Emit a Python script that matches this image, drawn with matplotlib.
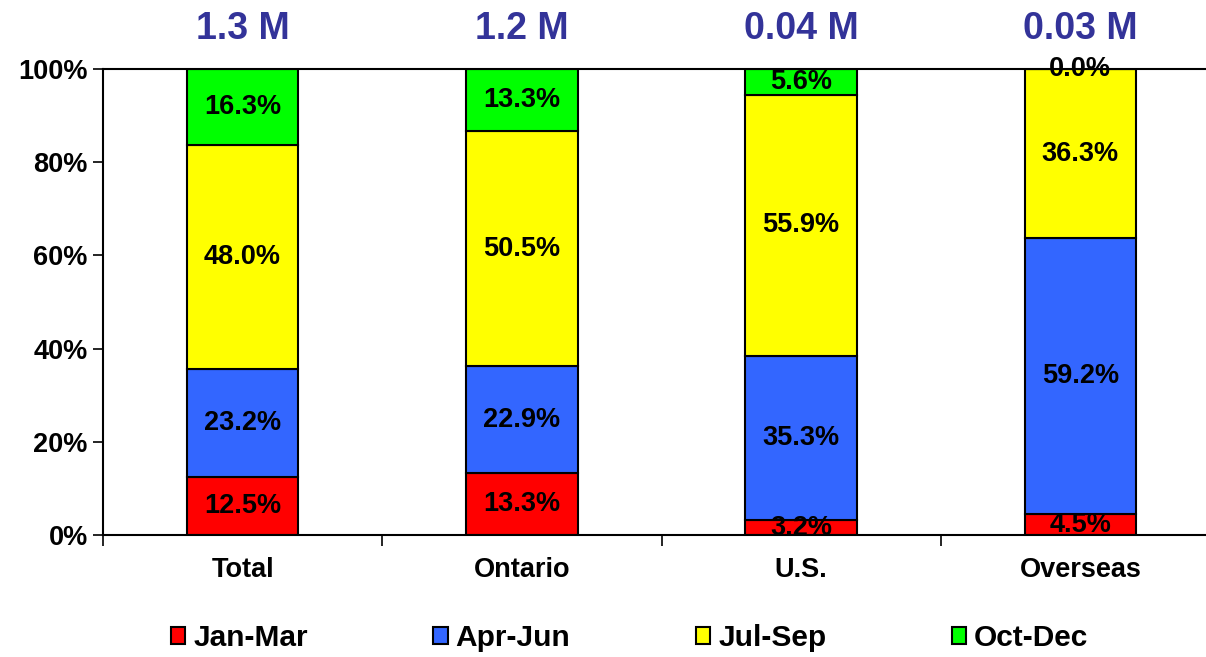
import matplotlib
matplotlib.use("Agg")
import matplotlib.pyplot as plt
from matplotlib.patches import Patch
import numpy as np

plt.rcParams['font.family'] = ['Liberation Sans', 'DejaVu Sans']
plt.rcParams['font.weight'] = 'bold'

regions = ["Total", "Ontario", "U.S.", "Overseas"]
totals = ["1.3 M", "1.2 M", "0.04 M", "0.03 M"]
quarters = ["Jan-Mar", "Apr-Jun", "Jul-Sep", "Oct-Dec"]
shares = {
    "Jan-Mar": [12.5, 13.3, 3.2, 4.5],
    "Apr-Jun": [23.2, 22.9, 35.3, 59.2],
    "Jul-Sep": [48.0, 50.5, 55.9, 36.3],
    "Oct-Dec": [16.3, 13.3, 5.6, 0.0],
}
colors = ["#FF0000", "#3366FF", "#FFFF00", "#00FF00"]

fig = plt.figure(figsize=(12.06, 6.57), dpi=100)
ax = fig.add_axes([103 / 1206, 122 / 657, 1117 / 1206, 466 / 657])

x = np.arange(len(regions))
bottom = np.zeros(len(regions))
for q, c in zip(quarters, colors):
    vals = np.array(shares[q])
    ax.bar(x, vals, width=0.4, bottom=bottom, color=c, edgecolor="black",
           linewidth=1.5, zorder=2)
    for xi, b, v in zip(x, bottom, vals):
        ax.text(xi, b + v / 2, f"{v:.1f}%", ha="center", va="center",
                fontsize=19.5, fontweight="bold", color="black", zorder=5,
                clip_on=False)
    bottom += vals

# total volume above each column
for xi, t in zip(x, totals):
    ax.text(xi, 1.086, t, transform=ax.get_xaxis_transform(), ha="center",
            va="center", fontsize=27, fontweight="bold", color="#333399")

ax.set_xlim(-0.5, 3.5)
ax.set_ylim(0, 100)
ax.set_yticks(np.arange(0, 101, 20))
ax.set_yticklabels([f"{v}%" for v in range(0, 101, 20)], fontsize=19.5,
                   fontweight="bold")

# category boundaries get the tick marks, names sit at the centres
ax.set_xticks(np.arange(-0.5, 4, 1))
ax.set_xticklabels([])
ax.set_xticks(x, minor=True)
ax.set_xticklabels(regions, minor=True, fontsize=19.5, fontweight="bold")
ax.tick_params(axis="x", which="minor", length=0, pad=16)
ax.tick_params(axis="x", which="major", length=8, width=1.2, direction="out")
ax.tick_params(axis="y", length=7, width=1.2, direction="out", pad=4)

for s in ax.spines.values():
    s.set_linewidth(1.5)

handles = [Patch(facecolor=c, edgecolor="black", linewidth=1.5) for c in colors]
fig.legend(handles, quarters, loc="center", bbox_to_anchor=(0.522, 1 - 638 / 657),
           ncol=4, frameon=False, handlelength=0.48, handleheight=0.48,
           handletextpad=0.27, columnspacing=4.2,
           prop={"weight": "bold", "size": 21.5})

fig.savefig("out.png", dpi=100)
